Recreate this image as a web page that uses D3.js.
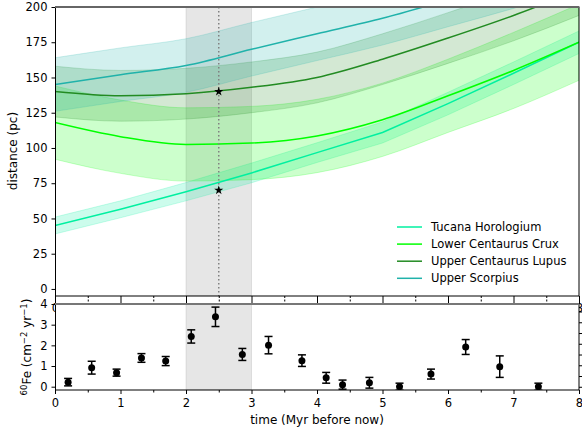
<!DOCTYPE html>
<html>
<head>
<meta charset="utf-8">
<script src="https://cdn.jsdelivr.net/npm/d3@7"></script>
<style>
  body { margin: 0; background: #fff; }
  text { font-family: "DejaVu Sans", sans-serif; font-size: 11.5px; fill: #000; }
  .tick text { font-size: 11.5px; }
</style>
</head>
<body>
<svg width="582" height="436"></svg>
<script>
// distances of the groups vs time (Myr before now)
var times = [0, 1, 2, 3, 4, 5, 6, 7, 8];
var thDist  = [45, 56.5, 69, 82.3, 96.7, 111, 131.5, 153, 175];
var thErr   = [6, 6, 6.5, 7, 7, 7.5, 8, 8, 8];
var lccDist = [118, 108, 102.5, 103.5, 108.5, 120, 137, 155, 175];
var lccErr  = [26, 26, 26, 26, 26, 26, 26, 27, 27];
var uclDist = [140, 137, 138.5, 143, 150, 163, 178, 194, 212];
var uclErr  = [18, 18, 18, 18, 18, 18, 18, 18, 18];
var usDist  = [145, 152, 158.5, 170, 181, 192, 205, 218, 232];
var usErr   = [19, 19, 19, 19, 19, 19, 19, 19, 19];

var groups = [
  {name: 'Tucana Horologium',    dist: thDist,  err: thErr,  color: '#00f0a0', curve: d3.curveLinear},
  {name: 'Lower Centaurus Crux', dist: lccDist, err: lccErr, color: '#00ff00', curve: d3.curveMonotoneX},
  {name: 'Upper Centaurus Lupus', dist: uclDist, err: uclErr, color: '#228b22', curve: d3.curveMonotoneX},
  {name: 'Upper Scorpius',       dist: usDist,  err: usErr,  color: '#20b2aa', curve: d3.curveMonotoneX},
];

var starT = [2.5, 2.5];
var starD = [140, 70];

// 60Fe flux measurements
var feTime = [0.2, 0.56, 0.94, 1.32, 1.69, 2.08, 2.45, 2.86, 3.26, 3.77, 4.14, 4.39, 4.8, 5.26, 5.74, 6.27, 6.79, 7.38];
var feFlux = [0.22, 0.92, 0.68, 1.39, 1.24, 2.43, 3.38, 1.56, 2.01, 1.26, 0.43, 0.1, 0.19, 0.0, 0.61, 1.92, 0.97, 0.0];
var feErr  = [0.18, 0.31, 0.17, 0.21, 0.22, 0.32, 0.47, 0.29, 0.42, 0.28, 0.26, 0.22, 0.26, 0.17, 0.24, 0.36, 0.52, 0.17];

var spanT = [2, 3];
var markT = 2.5;

var left = 55, right = 579;
var svg = d3.select('svg');

var x = d3.scaleLinear().domain([0, 8]).range([left, right]);
var y = d3.scaleLinear().domain([-5, 200]).range([296, 7]);
var y2 = d3.scaleLinear().domain([-0.16, 4]).range([390, 304]);
var yR = d3.scaleLinear().domain([-0.3, 7.7]).range([390, 304]);

svg.append('clipPath').attr('id', 'clipTop').append('rect')
  .attr('x', left).attr('y', 7).attr('width', right - left).attr('height', 289);
svg.append('clipPath').attr('id', 'clipBot').append('rect')
  .attr('x', left).attr('y', 304).attr('width', right - left).attr('height', 86);

// ---- top panel
var topG = svg.append('g');
var plot = topG.append('g').attr('clip-path', 'url(#clipTop)');

plot.append('rect')
  .attr('x', x(spanT[0])).attr('y', 7)
  .attr('width', x(spanT[1]) - x(spanT[0])).attr('height', 289)
  .attr('fill', 'gray').attr('fill-opacity', 0.2)
  .attr('stroke', 'gray').attr('stroke-opacity', 0.2);

groups.forEach(function(g) {
  var area = d3.area()
    .curve(g.curve)
    .x((d, i) => x(times[i]))
    .y0((d, i) => y(d - g.err[i]))
    .y1((d, i) => y(d + g.err[i]));
  plot.append('path')
    .datum(g.dist)
    .attr('d', area)
    .attr('fill', g.color).attr('fill-opacity', 0.2)
    .attr('stroke', g.color).attr('stroke-opacity', 0.2);
});
groups.forEach(function(g) {
  var line = d3.line()
    .curve(g.curve)
    .x((d, i) => x(times[i]))
    .y(d => y(d));
  plot.append('path')
    .datum(g.dist)
    .attr('d', line)
    .attr('fill', 'none')
    .attr('stroke', g.color)
    .attr('stroke-width', 1.5);
});

plot.append('line')
  .attr('x1', x(markT)).attr('x2', x(markT))
  .attr('y1', 7).attr('y2', 296)
  .attr('stroke', 'gray').attr('stroke-width', 1.5)
  .attr('stroke-dasharray', '1.5,2.5');

plot.selectAll('path.star')
  .data(starT)
  .enter()
  .append('path')
  .attr('class', 'star')
  .attr('d', d3.symbol(d3.symbolStar, 26))
  .attr('transform', (d, i) => 'translate(' + x(d) + ',' + y(starD[i]) + ')')
  .attr('fill', '#000');

var yAx = topG.append('g').attr('transform', 'translate(' + left + ',0)')
  .call(d3.axisLeft(y).tickValues(d3.range(0, 201, 25)).tickSize(3.5).tickPadding(4));
yAx.select('.domain').remove();

var xAx = topG.append('g').attr('transform', 'translate(0,296)')
  .call(d3.axisBottom(x).ticks(8).tickSize(7).tickPadding(1));
xAx.select('.domain').remove();
var xMin = topG.append('g').attr('transform', 'translate(0,296)')
  .call(d3.axisBottom(x).tickValues(d3.range(0.5, 8, 1)).tickSize(6).tickFormat(''));
xMin.select('.domain').remove();
xMin.selectAll('line').attr('stroke-dasharray', '2,1.5');

topG.append('rect')
  .attr('x', left + 0.5).attr('y', 7).attr('width', right - left - 0.5).attr('height', 289)
  .attr('fill', 'none').attr('stroke', '#000').attr('stroke-width', 1);
topG.append('line').attr('x1', left).attr('x2', right).attr('y1', 7).attr('y2', 7)
  .attr('stroke', '#666').attr('stroke-width', 2);

topG.append('text')
  .attr('transform', 'translate(17,151) rotate(-90)')
  .attr('text-anchor', 'middle')
  .style('font-size', '12px')
  .text('distance (pc)');

// legend
var leg = topG.append('g').attr('transform', 'translate(397,227)');
groups.forEach(function(g, i) {
  leg.append('line')
    .attr('x1', 0).attr('x2', 25).attr('y1', i * 17.1).attr('y2', i * 17.1)
    .attr('stroke', g.color).attr('stroke-width', 1.5);
  leg.append('text')
    .attr('x', 34).attr('y', i * 17.1 + 4)
    .text(g.name);
});

// ---- bottom panel
var bot = svg.append('g');
bot.append('rect')
  .attr('x', left).attr('y', 304).attr('width', right - left).attr('height', 86)
  .attr('fill', '#fff');
var bplot = bot.append('g').attr('clip-path', 'url(#clipBot)');

bplot.append('rect')
  .attr('x', x(spanT[0])).attr('y', 304)
  .attr('width', x(spanT[1]) - x(spanT[0])).attr('height', 86)
  .attr('fill', 'gray').attr('fill-opacity', 0.2)
  .attr('stroke', 'gray').attr('stroke-opacity', 0.2);

var pts = bplot.selectAll('g.pt')
  .data(feTime)
  .enter()
  .append('g')
  .attr('class', 'pt');
pts.append('line')
  .attr('x1', d => x(d)).attr('x2', d => x(d))
  .attr('y1', (d, i) => y2(feFlux[i] - feErr[i]))
  .attr('y2', (d, i) => y2(feFlux[i] + feErr[i]))
  .attr('stroke', '#000').attr('stroke-width', 1.5);
[-1, 1].forEach(function(s) {
  pts.append('line')
    .attr('x1', d => x(d) - 4).attr('x2', d => x(d) + 4)
    .attr('y1', (d, i) => y2(feFlux[i] + s * feErr[i]))
    .attr('y2', (d, i) => y2(feFlux[i] + s * feErr[i]))
    .attr('stroke', '#000').attr('stroke-width', 1.5);
});
pts.append('circle')
  .attr('cx', d => x(d))
  .attr('cy', (d, i) => y2(feFlux[i]))
  .attr('r', 3.5)
  .attr('fill', '#000');

var y2Ax = bot.append('g').attr('transform', 'translate(' + left + ',0)')
  .call(d3.axisLeft(y2).tickValues([0, 1, 2, 3, 4]).tickFormat(d3.format('d')).tickSize(3.5).tickPadding(4));
y2Ax.select('.domain').remove();

var yRAx = bot.append('g').attr('transform', 'translate(' + right + ',0)')
  .call(d3.axisRight(yR).tickValues(d3.range(0, 8)).tickSize(3.5).tickFormat(''));
yRAx.select('.domain').remove();

var x2Ax = bot.append('g').attr('transform', 'translate(0,390)')
  .call(d3.axisBottom(x).ticks(8).tickSize(4).tickPadding(5));
x2Ax.select('.domain').remove();
var x2Min = bot.append('g').attr('transform', 'translate(0,390)')
  .call(d3.axisBottom(x).tickValues(d3.range(0.5, 8, 1)).tickSize(2.5).tickFormat(''));
x2Min.select('.domain').remove();

bot.append('rect')
  .attr('x', left + 0.5).attr('y', 304).attr('width', right - left - 0.5).attr('height', 86)
  .attr('fill', 'none').attr('stroke', '#000').attr('stroke-width', 1);
bot.append('line').attr('x1', left).attr('x2', right).attr('y1', 304).attr('y2', 304)
  .attr('stroke', '#777').attr('stroke-width', 2);

var fe = bot.append('text')
  .attr('transform', 'translate(31,347) rotate(-90)')
  .attr('text-anchor', 'middle')
  .style('font-size', '12px');
fe.append('tspan').attr('font-size', '8.5px').attr('dy', -4.5).text('60');
fe.append('tspan').attr('dy', 4.5).text('Fe (cm');
fe.append('tspan').attr('font-size', '8.5px').attr('dy', -4.5).text('\u22122');
fe.append('tspan').attr('dy', 4.5).text(' yr');
fe.append('tspan').attr('font-size', '8.5px').attr('dy', -4.5).text('\u22121');
fe.append('tspan').attr('dy', 4.5).text(')');

bot.append('text')
  .attr('x', (left + right) / 2).attr('y', 424)
  .attr('text-anchor', 'middle')
  .style('font-size', '12px')
  .text('time (Myr before now)');
</script>
</body>
</html>
